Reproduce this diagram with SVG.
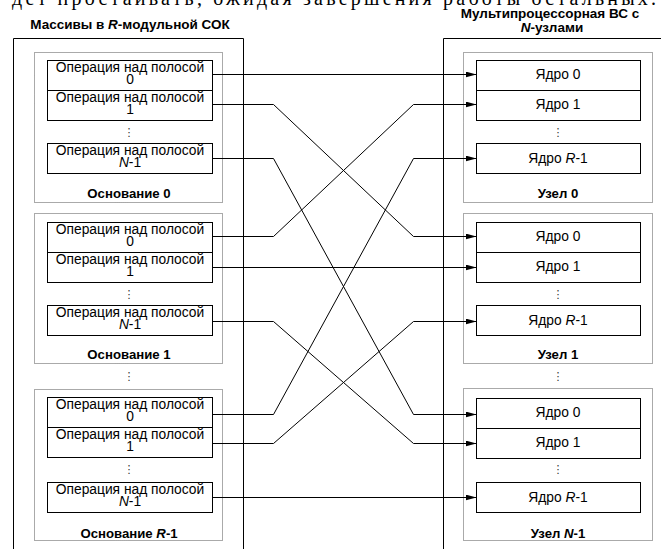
<svg xmlns="http://www.w3.org/2000/svg" width="661" height="549" viewBox="0 0 661 549">
<style>
text{font-family:"Liberation Sans",Arial,sans-serif;fill:#000}
.op{font-size:13.8px;text-anchor:middle}
.hd{font-size:13.5px;font-weight:bold;text-anchor:middle}
.lb{font-size:13.2px;font-weight:bold;text-anchor:middle}
.box{fill:#fff;stroke:#000;stroke-width:1}
.grp{fill:none;stroke:#555;stroke-width:1;stroke-dasharray:1 1}
.outer{fill:none;stroke:#000;stroke-width:1}
.dots{font-family:"DejaVu Sans",sans-serif;font-size:11px;fill:#333;text-anchor:middle}
.cn{fill:none;stroke:#000;stroke-width:1}
</style>
<defs>
<marker id="ah" markerWidth="11" markerHeight="6" refX="11" refY="3" orient="auto" markerUnits="userSpaceOnUse">
<path d="M0,0 L11,3 L0,6 Z" fill="#000"/>
</marker>
</defs>
<rect width="661" height="549" fill="#fff"/>
<text x="12" y="4.5" style="font-family:'Liberation Serif','Times New Roman',serif;font-size:20px" textLength="644" lengthAdjust="spacing">дет простаивать, ожидая завершения работы остальных.</text>

<g id="left-panel">
<text class="hd" x="130" y="29">Массивы в <tspan font-style="italic">R</tspan>-модульной СОК</text>
<path class="outer" d="M13.5,549 V38.5 H243.5 V549"/>
</g>
<g id="right-panel">
<text class="hd" x="550" y="18">Мультипроцессорная ВС с</text>
<text class="hd" x="552" y="32"><tspan font-style="italic">N</tspan>-узлами</text>
<path class="outer" d="M443.5,549 V38.5 H661"/>
</g>

<!-- Left groups -->
<g id="base0">
<rect class="grp" x="34.5" y="52.5" width="188" height="150"/>
<text class="lb" x="129" y="198">Основание 0</text>
<text class="dots" x="129" y="136">⋮</text>
</g>
<g id="b0-op0"><rect class="box" x="47.5" y="60.5" width="165" height="30"/><text class="op" x="130" y="72">Операция над полосой</text><text class="op" x="130" y="84">0</text></g>
<g id="b0-op1"><rect class="box" x="47.5" y="90.5" width="165" height="30"/><text class="op" x="130" y="102">Операция над полосой</text><text class="op" x="130" y="114">1</text></g>
<g id="b0-opN"><rect class="box" x="47.5" y="143.5" width="165" height="30"/><text class="op" x="130" y="155">Операция над полосой</text><text class="op" x="130" y="167"><tspan font-style="italic">N</tspan>-1</text></g>

<g id="base1">
<rect class="grp" x="34.5" y="213.5" width="188" height="150"/>
<text class="lb" x="129" y="359">Основание 1</text>
<text class="dots" x="129" y="298">⋮</text>
</g>
<g id="b1-op0"><rect class="box" x="47.5" y="222.5" width="165" height="30"/><text class="op" x="130" y="234">Операция над полосой</text><text class="op" x="130" y="246">0</text></g>
<g id="b1-op1"><rect class="box" x="47.5" y="252.5" width="165" height="30"/><text class="op" x="130" y="264">Операция над полосой</text><text class="op" x="130" y="276">1</text></g>
<g id="b1-opN"><rect class="box" x="47.5" y="305.5" width="165" height="30"/><text class="op" x="130" y="317">Операция над полосой</text><text class="op" x="130" y="329"><tspan font-style="italic">N</tspan>-1</text></g>

<text class="dots" x="129" y="380">⋮</text>

<g id="baseR">
<rect class="grp" x="34.5" y="389.5" width="188" height="151"/>
<text class="lb" x="129" y="538">Основание <tspan font-style="italic">R</tspan>-1</text>
<text class="dots" x="129" y="473">⋮</text>
</g>
<g id="bR-op0"><rect class="box" x="47.5" y="397.5" width="165" height="30"/><text class="op" x="130" y="409">Операция над полосой</text><text class="op" x="130" y="421">0</text></g>
<g id="bR-op1"><rect class="box" x="47.5" y="427.5" width="165" height="30"/><text class="op" x="130" y="439">Операция над полосой</text><text class="op" x="130" y="451">1</text></g>
<g id="bR-opN"><rect class="box" x="47.5" y="482.5" width="165" height="30"/><text class="op" x="130" y="494">Операция над полосой</text><text class="op" x="130" y="506"><tspan font-style="italic">N</tspan>-1</text></g>

<!-- Right groups -->
<g id="node0">
<rect class="grp" x="463.5" y="52.5" width="189" height="150"/>
<text class="lb" x="558" y="198">Узел 0</text>
<text class="dots" x="558" y="136">⋮</text>
</g>
<g id="n0-c0"><rect class="box" x="476.5" y="60.5" width="164" height="30"/><text class="op" x="558" y="79">Ядро 0</text></g>
<g id="n0-c1"><rect class="box" x="476.5" y="90.5" width="164" height="30"/><text class="op" x="558" y="109">Ядро 1</text></g>
<g id="n0-cR"><rect class="box" x="476.5" y="143.5" width="164" height="30"/><text class="op" x="558" y="163">Ядро <tspan font-style="italic">R</tspan>-1</text></g>

<g id="node1">
<rect class="grp" x="463.5" y="213.5" width="189" height="150"/>
<text class="lb" x="558" y="359">Узел 1</text>
<text class="dots" x="558" y="298">⋮</text>
</g>
<g id="n1-c0"><rect class="box" x="476.5" y="222.5" width="164" height="30"/><text class="op" x="558" y="241">Ядро 0</text></g>
<g id="n1-c1"><rect class="box" x="476.5" y="252.5" width="164" height="30"/><text class="op" x="558" y="271">Ядро 1</text></g>
<g id="n1-cR"><rect class="box" x="476.5" y="305.5" width="164" height="30"/><text class="op" x="558" y="325">Ядро <tspan font-style="italic">R</tspan>-1</text></g>

<text class="dots" x="558" y="380">⋮</text>

<g id="nodeN">
<rect class="grp" x="463.5" y="388.5" width="189" height="152"/>
<text class="lb" x="558" y="538">Узел <tspan font-style="italic">N</tspan>-1</text>
<text class="dots" x="558" y="473">⋮</text>
</g>
<g id="nN-c0"><rect class="box" x="476.5" y="398.5" width="164" height="30"/><text class="op" x="558" y="417">Ядро 0</text></g>
<g id="nN-c1"><rect class="box" x="476.5" y="428.5" width="164" height="30"/><text class="op" x="558" y="447">Ядро 1</text></g>
<g id="nN-cR"><rect class="box" x="476.5" y="482.5" width="164" height="30"/><text class="op" x="558" y="502">Ядро <tspan font-style="italic">R</tspan>-1</text></g>

<g id="connectors">
<path class="cn" d="M212.5,74.5 H476.5" marker-end="url(#ah)"/>
<path class="cn" d="M212.5,104.5 H273.5 L413.5,236.5 H476.5" marker-end="url(#ah)"/>
<path class="cn" d="M212.5,158.5 H273.5 L413.5,414.5 H476.5" marker-end="url(#ah)"/>
<path class="cn" d="M212.5,236.5 H273.5 L413.5,104.5 H476.5" marker-end="url(#ah)"/>
<path class="cn" d="M212.5,267.5 H476.5" marker-end="url(#ah)"/>
<path class="cn" d="M212.5,321.5 H273.5 L413.5,443.5 H476.5" marker-end="url(#ah)"/>
<path class="cn" d="M212.5,414.5 H273.5 L413.5,158.5 H476.5" marker-end="url(#ah)"/>
<path class="cn" d="M212.5,443.5 H273.5 L413.5,321.5 H476.5" marker-end="url(#ah)"/>
<path class="cn" d="M212.5,497.5 H476.5" marker-end="url(#ah)"/>
</g>
</svg>
